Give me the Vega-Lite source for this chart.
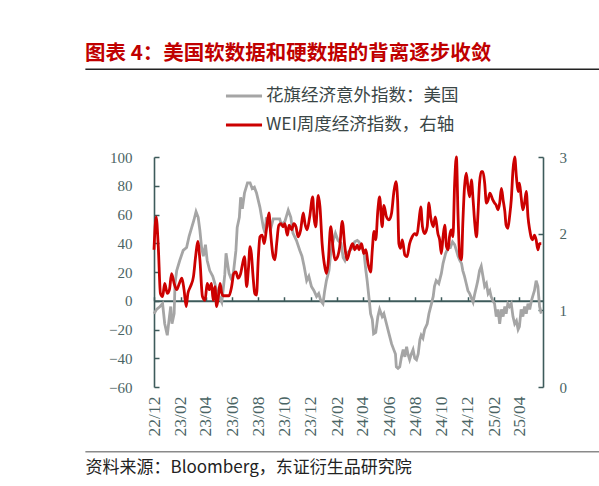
{
  "$schema": "https://vega.github.io/schema/vega-lite/v6.json",
  "width": 389,
  "height": 230,
  "autosize": {"type": "none"},
  "padding": {"left": 154, "top": 157, "right": 56, "bottom": 99},
  "background": "white",
  "config": {"view": {"stroke": null}, "font": "Liberation Serif"},
  "title": {
    "text": "图表 4：美国软数据和硬数据的背离逐步收敛",
    "anchor": "start",
    "frame": "group",
    "dx": -69,
    "offset": 4,
    "font": "Noto Sans CJK SC",
    "fontSize": 20.5,
    "fontWeight": "bold",
    "color": "#c00000"
  },
  "datasets": {
    "citi": [
      {"date": "2022-12-01", "value": -9}, {"date": "2022-12-07", "value": -6}, {"date": "2022-12-15", "value": -4},
      {"date": "2022-12-21", "value": -2}, {"date": "2022-12-26", "value": -16}, {"date": "2023-01-01", "value": -24},
      {"date": "2023-01-06", "value": -11}, {"date": "2023-01-09", "value": -4}, {"date": "2023-01-12", "value": -16},
      {"date": "2023-01-17", "value": -9}, {"date": "2023-01-19", "value": 12}, {"date": "2023-01-23", "value": 21},
      {"date": "2023-01-30", "value": 28}, {"date": "2023-02-07", "value": 35}, {"date": "2023-02-15", "value": 37},
      {"date": "2023-02-21", "value": 45}, {"date": "2023-02-27", "value": 51}, {"date": "2023-03-04", "value": 56},
      {"date": "2023-03-09", "value": 62}, {"date": "2023-03-14", "value": 58}, {"date": "2023-03-18", "value": 49},
      {"date": "2023-03-22", "value": 37}, {"date": "2023-03-26", "value": 31}, {"date": "2023-03-31", "value": 39},
      {"date": "2023-04-04", "value": 28}, {"date": "2023-04-10", "value": 21}, {"date": "2023-04-17", "value": 17},
      {"date": "2023-04-22", "value": 12}, {"date": "2023-04-26", "value": 7}, {"date": "2023-05-02", "value": 3},
      {"date": "2023-05-08", "value": -1}, {"date": "2023-05-11", "value": 7}, {"date": "2023-05-15", "value": 18},
      {"date": "2023-05-18", "value": 33}, {"date": "2023-05-25", "value": 19}, {"date": "2023-05-29", "value": 16},
      {"date": "2023-06-04", "value": 19}, {"date": "2023-06-10", "value": 35}, {"date": "2023-06-13", "value": 51},
      {"date": "2023-06-18", "value": 58}, {"date": "2023-06-21", "value": 72}, {"date": "2023-06-25", "value": 64},
      {"date": "2023-06-30", "value": 75}, {"date": "2023-07-07", "value": 82}, {"date": "2023-07-13", "value": 82},
      {"date": "2023-07-18", "value": 78}, {"date": "2023-07-23", "value": 79}, {"date": "2023-07-28", "value": 75},
      {"date": "2023-08-01", "value": 70}, {"date": "2023-08-05", "value": 65}, {"date": "2023-08-09", "value": 58},
      {"date": "2023-08-13", "value": 51}, {"date": "2023-08-17", "value": 47}, {"date": "2023-08-20", "value": 58},
      {"date": "2023-08-24", "value": 55}, {"date": "2023-08-30", "value": 50}, {"date": "2023-09-05", "value": 57},
      {"date": "2023-09-13", "value": 57}, {"date": "2023-09-20", "value": 57}, {"date": "2023-09-24", "value": 53},
      {"date": "2023-10-02", "value": 55}, {"date": "2023-10-10", "value": 63}, {"date": "2023-10-16", "value": 58},
      {"date": "2023-10-21", "value": 47}, {"date": "2023-10-29", "value": 42}, {"date": "2023-11-06", "value": 35},
      {"date": "2023-11-11", "value": 31}, {"date": "2023-11-16", "value": 24}, {"date": "2023-11-22", "value": 14},
      {"date": "2023-11-27", "value": 17}, {"date": "2023-12-03", "value": 10}, {"date": "2023-12-09", "value": 7},
      {"date": "2023-12-15", "value": 3}, {"date": "2023-12-20", "value": 5}, {"date": "2023-12-25", "value": 0},
      {"date": "2023-12-30", "value": -2}, {"date": "2024-01-03", "value": 7}, {"date": "2024-01-07", "value": 14},
      {"date": "2024-01-13", "value": 21}, {"date": "2024-01-17", "value": 33}, {"date": "2024-01-23", "value": 42},
      {"date": "2024-01-28", "value": 47}, {"date": "2024-02-03", "value": 42}, {"date": "2024-02-10", "value": 40},
      {"date": "2024-02-15", "value": 30}, {"date": "2024-02-19", "value": 28}, {"date": "2024-02-24", "value": 33},
      {"date": "2024-03-02", "value": 35}, {"date": "2024-03-08", "value": 37}, {"date": "2024-03-13", "value": 41},
      {"date": "2024-03-19", "value": 42}, {"date": "2024-03-23", "value": 41}, {"date": "2024-03-29", "value": 37},
      {"date": "2024-04-03", "value": 35}, {"date": "2024-04-08", "value": 21}, {"date": "2024-04-11", "value": 14},
      {"date": "2024-04-16", "value": 0}, {"date": "2024-04-19", "value": -9}, {"date": "2024-04-23", "value": -13},
      {"date": "2024-04-26", "value": -23}, {"date": "2024-05-01", "value": -22}, {"date": "2024-05-06", "value": -11},
      {"date": "2024-05-10", "value": -6}, {"date": "2024-05-16", "value": -11}, {"date": "2024-05-20", "value": -9},
      {"date": "2024-05-26", "value": -16}, {"date": "2024-06-01", "value": -23}, {"date": "2024-06-07", "value": -30},
      {"date": "2024-06-12", "value": -34}, {"date": "2024-06-16", "value": -37}, {"date": "2024-06-18", "value": -46},
      {"date": "2024-06-22", "value": -47}, {"date": "2024-06-26", "value": -46}, {"date": "2024-06-30", "value": -39},
      {"date": "2024-07-04", "value": -34}, {"date": "2024-07-08", "value": -39}, {"date": "2024-07-12", "value": -32},
      {"date": "2024-07-15", "value": -37}, {"date": "2024-07-19", "value": -41}, {"date": "2024-07-23", "value": -37},
      {"date": "2024-07-27", "value": -34}, {"date": "2024-07-31", "value": -40}, {"date": "2024-08-04", "value": -41},
      {"date": "2024-08-08", "value": -37}, {"date": "2024-08-12", "value": -27}, {"date": "2024-08-15", "value": -24},
      {"date": "2024-08-19", "value": -26}, {"date": "2024-08-23", "value": -20}, {"date": "2024-08-29", "value": -16},
      {"date": "2024-09-02", "value": -9}, {"date": "2024-09-08", "value": -2}, {"date": "2024-09-12", "value": 3},
      {"date": "2024-09-15", "value": 10}, {"date": "2024-09-19", "value": 14}, {"date": "2024-09-25", "value": 12},
      {"date": "2024-10-01", "value": 19}, {"date": "2024-10-05", "value": 26}, {"date": "2024-10-11", "value": 33},
      {"date": "2024-10-17", "value": 37}, {"date": "2024-10-22", "value": 37}, {"date": "2024-10-27", "value": 41},
      {"date": "2024-11-01", "value": 39}, {"date": "2024-11-05", "value": 35}, {"date": "2024-11-09", "value": 31},
      {"date": "2024-11-13", "value": 28}, {"date": "2024-11-17", "value": 26}, {"date": "2024-11-20", "value": 21},
      {"date": "2024-11-24", "value": 17}, {"date": "2024-11-28", "value": 12}, {"date": "2024-12-02", "value": 7},
      {"date": "2024-12-06", "value": 5}, {"date": "2024-12-10", "value": 2}, {"date": "2024-12-14", "value": -1},
      {"date": "2024-12-18", "value": 5}, {"date": "2024-12-22", "value": 10}, {"date": "2024-12-25", "value": 14},
      {"date": "2024-12-29", "value": 21}, {"date": "2025-01-02", "value": 24}, {"date": "2025-01-06", "value": 17},
      {"date": "2025-01-10", "value": 10}, {"date": "2025-01-14", "value": 12}, {"date": "2025-01-18", "value": 5},
      {"date": "2025-01-22", "value": 7}, {"date": "2025-01-25", "value": 3}, {"date": "2025-01-29", "value": 0},
      {"date": "2025-02-02", "value": -2}, {"date": "2025-02-06", "value": -11}, {"date": "2025-02-10", "value": -6},
      {"date": "2025-02-14", "value": -16}, {"date": "2025-02-18", "value": -6}, {"date": "2025-02-22", "value": -11},
      {"date": "2025-02-26", "value": -4}, {"date": "2025-03-01", "value": -9}, {"date": "2025-03-05", "value": -2},
      {"date": "2025-03-09", "value": -4}, {"date": "2025-03-13", "value": -2}, {"date": "2025-03-17", "value": -11},
      {"date": "2025-03-21", "value": -16}, {"date": "2025-03-25", "value": -14}, {"date": "2025-03-29", "value": -20},
      {"date": "2025-04-01", "value": -18}, {"date": "2025-04-05", "value": -6}, {"date": "2025-04-09", "value": -11},
      {"date": "2025-04-13", "value": -4}, {"date": "2025-04-17", "value": -9}, {"date": "2025-04-21", "value": -2},
      {"date": "2025-04-25", "value": -6}, {"date": "2025-04-29", "value": 0}, {"date": "2025-05-02", "value": 3},
      {"date": "2025-05-06", "value": 7}, {"date": "2025-05-10", "value": 14}, {"date": "2025-05-14", "value": 10},
      {"date": "2025-05-18", "value": -4}, {"date": "2025-05-22", "value": -9}
    ],
    "wei": [
      {"date": "2022-12-01", "value": 1.79}, {"date": "2022-12-06", "value": 2.22}, {"date": "2022-12-11", "value": 1.83},
      {"date": "2022-12-16", "value": 1.22}, {"date": "2022-12-21", "value": 1.18}, {"date": "2022-12-26", "value": 1.35},
      {"date": "2023-01-01", "value": 1.22}, {"date": "2023-01-06", "value": 1.27}, {"date": "2023-01-11", "value": 1.48},
      {"date": "2023-01-17", "value": 1.35}, {"date": "2023-01-23", "value": 1.27}, {"date": "2023-01-29", "value": 1.35},
      {"date": "2023-02-04", "value": 1.42}, {"date": "2023-02-09", "value": 1.27}, {"date": "2023-02-14", "value": 1.05},
      {"date": "2023-02-18", "value": 1.22}, {"date": "2023-02-24", "value": 1.31}, {"date": "2023-03-03", "value": 1.44},
      {"date": "2023-03-08", "value": 1.7}, {"date": "2023-03-13", "value": 1.9}, {"date": "2023-03-18", "value": 1.66},
      {"date": "2023-03-24", "value": 1.18}, {"date": "2023-03-30", "value": 1.13}, {"date": "2023-04-04", "value": 1.35},
      {"date": "2023-04-09", "value": 1.27}, {"date": "2023-04-14", "value": 1.35}, {"date": "2023-04-18", "value": 1.13},
      {"date": "2023-04-22", "value": 1.31}, {"date": "2023-04-26", "value": 1.05}, {"date": "2023-04-30", "value": 1.18},
      {"date": "2023-05-04", "value": 1.35}, {"date": "2023-05-08", "value": 1.22}, {"date": "2023-05-11", "value": 1.19},
      {"date": "2023-05-19", "value": 1.19}, {"date": "2023-05-25", "value": 1.19}, {"date": "2023-05-31", "value": 1.31},
      {"date": "2023-06-05", "value": 1.48}, {"date": "2023-06-10", "value": 1.5}, {"date": "2023-06-15", "value": 1.42},
      {"date": "2023-06-21", "value": 1.48}, {"date": "2023-06-25", "value": 1.59}, {"date": "2023-06-30", "value": 1.7},
      {"date": "2023-07-05", "value": 1.31}, {"date": "2023-07-09", "value": 1.53}, {"date": "2023-07-13", "value": 1.83},
      {"date": "2023-07-16", "value": 1.74}, {"date": "2023-07-20", "value": 1.44}, {"date": "2023-07-24", "value": 1.22},
      {"date": "2023-07-28", "value": 1.2}, {"date": "2023-08-01", "value": 1.66}, {"date": "2023-08-05", "value": 1.96},
      {"date": "2023-08-10", "value": 1.98}, {"date": "2023-08-15", "value": 1.87}, {"date": "2023-08-20", "value": 2.05},
      {"date": "2023-08-26", "value": 2.27}, {"date": "2023-08-30", "value": 2.0}, {"date": "2023-09-05", "value": 1.7},
      {"date": "2023-09-09", "value": 1.66}, {"date": "2023-09-13", "value": 1.87}, {"date": "2023-09-18", "value": 2.11},
      {"date": "2023-09-23", "value": 2.13}, {"date": "2023-09-28", "value": 2.09}, {"date": "2023-10-02", "value": 2.13},
      {"date": "2023-10-08", "value": 1.98}, {"date": "2023-10-12", "value": 2.11}, {"date": "2023-10-18", "value": 2.05},
      {"date": "2023-10-23", "value": 2.13}, {"date": "2023-10-28", "value": 2.09}, {"date": "2023-11-02", "value": 1.96},
      {"date": "2023-11-08", "value": 2.05}, {"date": "2023-11-14", "value": 2.27}, {"date": "2023-11-18", "value": 2.13},
      {"date": "2023-11-23", "value": 2.05}, {"date": "2023-11-29", "value": 2.22}, {"date": "2023-12-06", "value": 2.48},
      {"date": "2023-12-09", "value": 2.22}, {"date": "2023-12-13", "value": 2.09}, {"date": "2023-12-19", "value": 2.5},
      {"date": "2023-12-23", "value": 2.35}, {"date": "2023-12-28", "value": 1.87}, {"date": "2024-01-02", "value": 1.61},
      {"date": "2024-01-07", "value": 1.48}, {"date": "2024-01-11", "value": 1.61}, {"date": "2024-01-17", "value": 2.09},
      {"date": "2024-01-23", "value": 1.79}, {"date": "2024-01-27", "value": 1.66}, {"date": "2024-02-02", "value": 1.7},
      {"date": "2024-02-07", "value": 1.83}, {"date": "2024-02-13", "value": 2.16}, {"date": "2024-02-19", "value": 1.83},
      {"date": "2024-02-24", "value": 1.66}, {"date": "2024-03-02", "value": 1.79}, {"date": "2024-03-08", "value": 1.87},
      {"date": "2024-03-13", "value": 1.79}, {"date": "2024-03-19", "value": 1.85}, {"date": "2024-03-23", "value": 1.79},
      {"date": "2024-03-29", "value": 1.87}, {"date": "2024-04-03", "value": 1.74}, {"date": "2024-04-08", "value": 1.79},
      {"date": "2024-04-13", "value": 1.61}, {"date": "2024-04-19", "value": 1.5}, {"date": "2024-04-23", "value": 1.79},
      {"date": "2024-04-27", "value": 2.03}, {"date": "2024-05-01", "value": 1.92}, {"date": "2024-05-06", "value": 2.31},
      {"date": "2024-05-10", "value": 2.48}, {"date": "2024-05-16", "value": 2.09}, {"date": "2024-05-20", "value": 2.37},
      {"date": "2024-05-26", "value": 2.22}, {"date": "2024-06-01", "value": 2.18}, {"date": "2024-06-07", "value": 2.27},
      {"date": "2024-06-12", "value": 2.53}, {"date": "2024-06-17", "value": 2.68}, {"date": "2024-06-21", "value": 2.44},
      {"date": "2024-06-24", "value": 1.87}, {"date": "2024-06-28", "value": 1.81}, {"date": "2024-07-02", "value": 1.92},
      {"date": "2024-07-08", "value": 1.72}, {"date": "2024-07-13", "value": 1.7}, {"date": "2024-07-19", "value": 1.87},
      {"date": "2024-07-25", "value": 1.96}, {"date": "2024-07-31", "value": 2.0}, {"date": "2024-08-05", "value": 1.98},
      {"date": "2024-08-10", "value": 2.18}, {"date": "2024-08-14", "value": 2.35}, {"date": "2024-08-18", "value": 2.09},
      {"date": "2024-08-23", "value": 2.0}, {"date": "2024-08-29", "value": 2.09}, {"date": "2024-09-02", "value": 2.4},
      {"date": "2024-09-06", "value": 2.22}, {"date": "2024-09-12", "value": 2.09}, {"date": "2024-09-17", "value": 2.22},
      {"date": "2024-09-23", "value": 2.0}, {"date": "2024-09-27", "value": 1.92}, {"date": "2024-10-01", "value": 1.74},
      {"date": "2024-10-05", "value": 1.96}, {"date": "2024-10-09", "value": 2.11}, {"date": "2024-10-13", "value": 1.83},
      {"date": "2024-10-17", "value": 1.79}, {"date": "2024-10-20", "value": 1.96}, {"date": "2024-10-24", "value": 2.05},
      {"date": "2024-10-28", "value": 1.96}, {"date": "2024-11-01", "value": 2.66}, {"date": "2024-11-05", "value": 3.0},
      {"date": "2024-11-09", "value": 2.22}, {"date": "2024-11-13", "value": 1.7}, {"date": "2024-11-17", "value": 1.66},
      {"date": "2024-11-20", "value": 2.13}, {"date": "2024-11-24", "value": 2.61}, {"date": "2024-11-28", "value": 2.79},
      {"date": "2024-12-02", "value": 2.61}, {"date": "2024-12-06", "value": 2.48}, {"date": "2024-12-10", "value": 2.7},
      {"date": "2024-12-14", "value": 2.44}, {"date": "2024-12-18", "value": 2.13}, {"date": "2024-12-22", "value": 1.96},
      {"date": "2024-12-25", "value": 2.22}, {"date": "2024-12-29", "value": 2.66}, {"date": "2025-01-02", "value": 2.81},
      {"date": "2025-01-06", "value": 2.81}, {"date": "2025-01-10", "value": 2.66}, {"date": "2025-01-14", "value": 2.4},
      {"date": "2025-01-18", "value": 2.44}, {"date": "2025-01-22", "value": 2.53}, {"date": "2025-01-25", "value": 2.5},
      {"date": "2025-01-29", "value": 2.44}, {"date": "2025-02-02", "value": 2.4}, {"date": "2025-02-06", "value": 2.37},
      {"date": "2025-02-10", "value": 2.31}, {"date": "2025-02-14", "value": 2.4}, {"date": "2025-02-18", "value": 2.59},
      {"date": "2025-02-22", "value": 2.44}, {"date": "2025-02-26", "value": 2.29}, {"date": "2025-03-01", "value": 2.11},
      {"date": "2025-03-05", "value": 2.07}, {"date": "2025-03-09", "value": 2.22}, {"date": "2025-03-13", "value": 2.44},
      {"date": "2025-03-17", "value": 2.83}, {"date": "2025-03-21", "value": 3.0}, {"date": "2025-03-25", "value": 2.74},
      {"date": "2025-03-29", "value": 2.55}, {"date": "2025-04-01", "value": 2.66}, {"date": "2025-04-05", "value": 2.48},
      {"date": "2025-04-09", "value": 2.31}, {"date": "2025-04-13", "value": 2.4}, {"date": "2025-04-17", "value": 2.55},
      {"date": "2025-04-21", "value": 2.22}, {"date": "2025-04-25", "value": 2.05}, {"date": "2025-04-29", "value": 1.94},
      {"date": "2025-05-02", "value": 1.92}, {"date": "2025-05-06", "value": 1.98}, {"date": "2025-05-10", "value": 1.92},
      {"date": "2025-05-14", "value": 1.79}, {"date": "2025-05-18", "value": 1.87}, {"date": "2025-05-22", "value": 1.87}
    ]
  },
  "layer": [
    {
      "data": {"values": [{}]},
      "mark": {"type": "rule", "color": "#222222", "strokeWidth": 1.5, "clip": false},
      "encoding": {
        "x": {"datum": {"year": 2022, "month": 6, "date": 24, "utc": true}, "type": "temporal",
              "scale": {"type": "utc", "domain": [{"year": 2022, "month": 12, "date": 1, "utc": true}, {"year": 2025, "month": 5, "date": 26, "utc": true}]},
              "axis": null},
        "x2": {"datum": {"year": 2025, "month": 10, "date": 10, "utc": true}},
        "y": {"datum": 161, "type": "quantitative", "scale": {"domain": [-60, 100]}, "axis": null}
      }
    },
    {
      "data": {"values": [{}]},
      "mark": {"type": "rule", "color": "#8a8a8a", "strokeWidth": 1.5, "clip": false},
      "encoding": {
        "x": {"datum": {"year": 2022, "month": 6, "date": 24, "utc": true}, "type": "temporal", "axis": null},
        "x2": {"datum": {"year": 2025, "month": 10, "date": 10, "utc": true}},
        "y": {"datum": -105, "type": "quantitative", "scale": {"domain": [-60, 100]}, "axis": null}
      }
    },
    {
      "data": {"name": "citi"},
      "mark": {"type": "line", "strokeWidth": 2.8},
      "encoding": {
        "x": {
          "field": "date", "type": "temporal",
          "scale": {"type": "utc", "domain": [{"year": 2022, "month": 12, "date": 1, "utc": true}, {"year": 2025, "month": 5, "date": 26, "utc": true}]},
          "axis": {
            "orient": "bottom",
            "values": [
              {"year": 2022, "month": 12, "date": 1, "utc": true}, {"year": 2023, "month": 2, "date": 1, "utc": true},
              {"year": 2023, "month": 4, "date": 1, "utc": true}, {"year": 2023, "month": 6, "date": 1, "utc": true},
              {"year": 2023, "month": 8, "date": 1, "utc": true}, {"year": 2023, "month": 10, "date": 1, "utc": true},
              {"year": 2023, "month": 12, "date": 1, "utc": true}, {"year": 2024, "month": 2, "date": 1, "utc": true},
              {"year": 2024, "month": 4, "date": 1, "utc": true}, {"year": 2024, "month": 6, "date": 1, "utc": true},
              {"year": 2024, "month": 8, "date": 1, "utc": true}, {"year": 2024, "month": 10, "date": 1, "utc": true},
              {"year": 2024, "month": 12, "date": 1, "utc": true}, {"year": 2025, "month": 2, "date": 1, "utc": true},
              {"year": 2025, "month": 4, "date": 1, "utc": true}
            ],
            "labelExpr": "utcFormat(datum.value, '%y/%m')",
            "labelAngle": 270,
            "labelFont": "Liberation Serif",
            "labelFontSize": 17.5,
            "labelColor": "#4a6464",
            "labelPadding": 9,
            "labelFlush": false,
            "labelOverlap": false,
            "labelBound": false,
            "domain": false,
            "ticks": false,
            "grid": false,
            "title": "资料来源：Bloomberg，东证衍生品研究院",
            "titleFont": "Noto Sans CJK SC",
            "titleFontSize": 17,
            "titleFontWeight": "normal",
            "titleColor": "#222222",
            "titleX": -69,
            "titleY": 80,
            "titleAlign": "left",
            "titleBaseline": "middle"
          }
        },
        "y": {
          "field": "value", "type": "quantitative",
          "scale": {"domain": [-60, 100]},
          "axis": {
            "orient": "left",
            "values": [-60, -40, -20, 0, 20, 40, 60, 80, 100],
            "domainColor": "#3e5b5b",
            "domainWidth": 1.6,
            "tickColor": "#3e5b5b",
            "tickWidth": 1.5,
            "tickSize": -5,
            "labelColor": "#4a6464",
            "labelFont": "Liberation Serif",
            "labelFontSize": 15,
            "labelPadding": 27,
            "grid": false,
            "title": null
          }
        },
        "color": {
          "datum": "花旗经济意外指数：美国",
          "scale": {"domain": ["花旗经济意外指数：美国", "WEI周度经济指数，右轴"], "range": ["#a5a5a5", "#cc0000"]},
          "legend": {
            "orient": "none",
            "legendX": 70,
            "legendY": -81,
            "title": null,
            "direction": "vertical",
            "symbolType": "stroke",
            "symbolStrokeWidth": 3,
            "symbolSize": 1300,
            "labelFont": "Noto Sans CJK SC",
            "labelFontSize": 17.5,
            "labelColor": "#3a4646",
            "labelOffset": 2,
            "labelLimit": 0,
            "rowPadding": -5
          }
        }
      }
    },
    {
      "data": {"name": "wei"},
      "mark": {"type": "line", "strokeWidth": 2.8, "interpolate": "monotone"},
      "encoding": {
        "x": {
          "field": "date", "type": "temporal",
          "axis": {
            "orient": "top",
            "offset": -143.75,
            "values": [
              {"year": 2022, "month": 12, "date": 1, "utc": true}, {"year": 2023, "month": 2, "date": 1, "utc": true},
              {"year": 2023, "month": 4, "date": 1, "utc": true}, {"year": 2023, "month": 6, "date": 1, "utc": true},
              {"year": 2023, "month": 8, "date": 1, "utc": true}, {"year": 2023, "month": 10, "date": 1, "utc": true},
              {"year": 2023, "month": 12, "date": 1, "utc": true}, {"year": 2024, "month": 2, "date": 1, "utc": true},
              {"year": 2024, "month": 4, "date": 1, "utc": true}, {"year": 2024, "month": 6, "date": 1, "utc": true},
              {"year": 2024, "month": 8, "date": 1, "utc": true}, {"year": 2024, "month": 10, "date": 1, "utc": true},
              {"year": 2024, "month": 12, "date": 1, "utc": true}, {"year": 2025, "month": 2, "date": 1, "utc": true},
              {"year": 2025, "month": 4, "date": 1, "utc": true}
            ],
            "labels": false,
            "ticks": true,
            "tickSize": 4,
            "tickWidth": 1.5,
            "tickColor": "#3e5b5b",
            "domain": true,
            "domainColor": "#3e5b5b",
            "domainWidth": 2,
            "grid": false,
            "title": null
          }
        },
        "y": {
          "field": "value", "type": "quantitative",
          "scale": {"domain": [0, 3]},
          "axis": {
            "orient": "right",
            "values": [0, 1, 2, 3],
            "domainColor": "#3e5b5b",
            "domainWidth": 1.6,
            "tickColor": "#3e5b5b",
            "tickWidth": 1.5,
            "tickSize": -5,
            "labelColor": "#4a6464",
            "labelFont": "Liberation Serif",
            "labelFontSize": 15,
            "labelPadding": 21,
            "grid": false,
            "title": null
          }
        },
        "color": {"datum": "WEI周度经济指数，右轴"}
      }
    }
  ],
  "resolve": {"scale": {"y": "independent"}, "axis": {"x": "independent"}}
}
